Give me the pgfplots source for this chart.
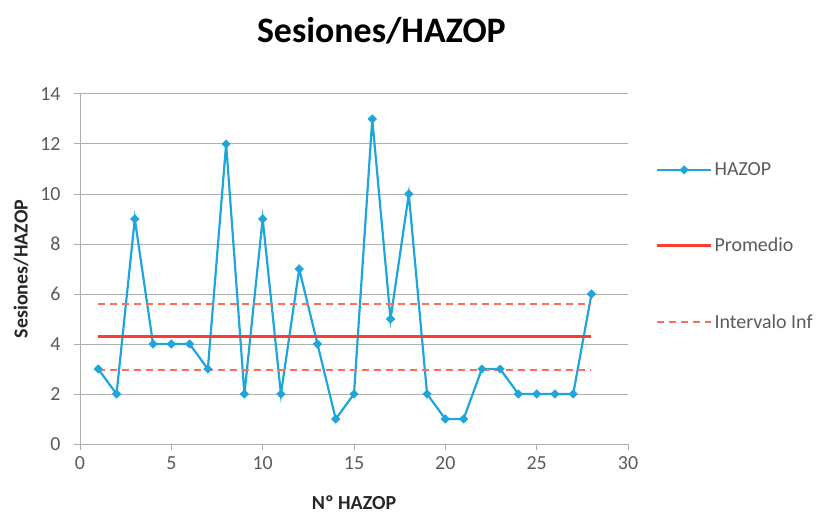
\documentclass[border=0pt]{standalone}
\usepackage{pgfplots}
\pgfplotsset{compat=1.18}
\usepackage{fontspec}
\setmainfont{Carlito}
\definecolor{hz}{RGB}{30,165,220}
\definecolor{prom}{RGB}{250,60,50}
\definecolor{intv}{RGB}{250,110,90}
\definecolor{tick}{RGB}{90,90,90}
\definecolor{gridc}{RGB}{175,175,175}
\pgfplotstableread{
x y
1 3
2 2
3 9
4 4
5 4
6 4
7 3
8 12
9 2
10 9
11 2
12 7
13 4
14 1
15 2
16 13
17 5
18 10
19 2
20 1
21 1
22 3
23 3
24 2
25 2
26 2
27 2
28 6
}\hazop
\begin{document}
\begin{tikzpicture}
\useasboundingbox (-80bp,-73bp) rectangle (738bp,444bp);
\begin{axis}[
  at={(0,0)}, anchor=origin,
  scale only axis,
  width=548bp, height=350bp,
  xmin=0, xmax=30, ymin=0, ymax=14,
  xtick={0,5,...,30}, ytick={0,2,...,14},
  axis x line*=bottom, axis y line*=left,
  axis line style={gridc, line width=1pt, -},
  ymajorgrids, grid style={gridc, line width=1pt},
  tick align=outside, tick style={gridc, line width=1pt},
  major tick length=6bp,
  ticklabel style={font=\fontsize{20}{22}\selectfont, text=tick},
  yticklabel style={xshift=-10bp},
  xticklabel style={yshift=-3bp},
  /pgf/number format/assume math mode=true,
  xlabel={\textbf{Nº HAZOP}},
  ylabel={\textbf{Sesiones/HAZOP}},
  label style={font=\fontsize{20}{22}\selectfont, text=black!85},
  xlabel style={at={(axis description cs:0.5,0)}, anchor=north, yshift=-48bp},
  ylabel style={at={(axis description cs:0,0.5)}, anchor=south, yshift=48bp},
  title={\textbf{Sesiones/HAZOP}},
  title style={font=\fontsize{36}{40}\selectfont, at={(axis description cs:0.55,1)}, anchor=south, yshift=40bp},
  legend style={at={(1.05,0.81)}, anchor=north west, draw=none, fill=none,
    font=\fontsize{20}{22}\selectfont, text=tick, row sep=57bp, inner sep=0pt,
    nodes={inner sep=2pt}},
  legend cell align=left,
  legend image code/.code={\draw[mark repeat=2,mark phase=2,#1] plot coordinates {(0bp,0bp) (27bp,0bp) (54bp,0bp)};},
  clip=false,
]
\addplot[hz, line width=2.2pt, mark=square*, mark size=3bp, mark options={fill=hz, draw=hz, line width=0.5pt, rotate=45}] table[x=x,y=y] {\hazop};
\addlegendentry{HAZOP}
\addplot[prom, line width=3pt] coordinates {(1,4.29) (28,4.29)};
\addlegendentry{Promedio}
\addplot[intv, line width=2.2pt, dash pattern=on 7bp off 5bp] coordinates {(1,5.6) (28,5.6)};
\addlegendentry{Intervalo Inf}
\addplot[intv, line width=2.2pt, dash pattern=on 7bp off 5bp, forget plot] coordinates {(1,2.97) (28,2.97)};
\end{axis}
\end{tikzpicture}
\end{document}
